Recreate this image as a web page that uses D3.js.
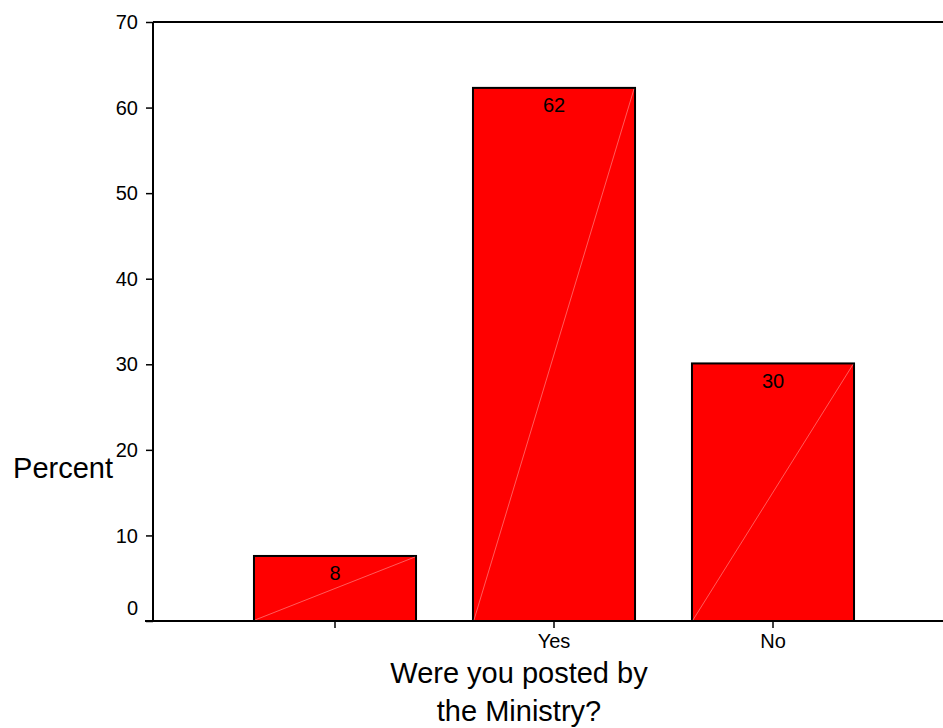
<!DOCTYPE html>
<html>
<head>
<meta charset="utf-8">
<script src="https://cdn.jsdelivr.net/npm/d3@7"></script>
<style>
body{margin:0;background:#fff;}
text{font-family:"Liberation Sans",Arial,sans-serif;fill:#000;}
</style>
</head>
<body>
<svg id="chart" width="943" height="728"></svg>
<script>
//数据
var categories = ["", "Yes", "No"];
var percents = [7.6, 62.3, 30.1];
var barLabels = ["8", "62", "30"];
var yTicks = [0, 10, 20, 30, 40, 50, 60, 70];

var svg = d3.select("#chart");

//比例尺
var y = d3.scaleLinear().domain([0, 70]).range([621, 22]);
var x = d3.scaleBand().domain(categories)
	.range([225.5, 882.5])
	.paddingInner(0.26)
	.paddingOuter(0.13);

var axisX = 153;

//框线
svg.append("line")
	.attr("x1", axisX).attr("x2", 943)
	.attr("y1", y(70)).attr("y2", y(70))
	.attr("stroke", "#000").attr("stroke-width", 2);

//柱子
var bars = svg.selectAll("g.bar")
	.data(percents)
	.enter().append("g")
	.attr("class", "bar");

bars.append("rect")
	.attr("x", function(d, i){ return x(categories[i]); })
	.attr("y", function(d){ return y(d); })
	.attr("width", x.bandwidth())
	.attr("height", function(d){ return y(0) - y(d); })
	.attr("fill", "#ff0000")
	.attr("stroke", "#000")
	.attr("stroke-width", 2);

bars.append("line")
	.attr("x1", function(d, i){ return x(categories[i]) + 1; })
	.attr("y1", y(0) - 1)
	.attr("x2", function(d, i){ return x(categories[i]) + x.bandwidth() - 1; })
	.attr("y2", function(d){ return y(d) + 1; })
	.attr("stroke", "#ffffff")
	.attr("stroke-opacity", 0.45)
	.attr("stroke-width", 0.8);

bars.append("text")
	.attr("x", function(d, i){ return x(categories[i]) + x.bandwidth()/2; })
	.attr("y", function(d){ return y(d) + 24.5; })
	.attr("text-anchor", "middle")
	.style("font-size", "20px")
	.text(function(d, i){ return barLabels[i]; });

//y轴
var yAxis = svg.append("g")
	.attr("transform", "translate(" + axisX + ",0)")
	.call(d3.axisLeft(y).tickValues(yTicks).tickSize(7).tickPadding(8).tickFormat(d3.format("d")));
yAxis.select(".domain").attr("stroke-width", 2).attr("d", "M0," + y(70) + "V" + y(0));
yAxis.selectAll(".tick line").attr("stroke-width", 1.5);
yAxis.selectAll(".tick text")
	.style("font-size", "20px")
	.style("font-family", "'Liberation Sans',Arial,sans-serif")
	.attr("dy", function(d){ return d == 0 ? "-0.35em" : "0.33em"; });

//x轴
var xAxis = svg.append("g")
	.attr("transform", "translate(0," + y(0) + ")")
	.call(d3.axisBottom(x).tickSize(7).tickPadding(6));
xAxis.select(".domain").attr("stroke-width", 2).attr("d", "M145,0H943");
xAxis.selectAll(".tick line").attr("stroke-width", 1.5);
xAxis.selectAll(".tick text")
	.style("font-size", "20px")
	.style("font-family", "'Liberation Sans',Arial,sans-serif");

//标题
svg.append("text")
	.attr("x", 113).attr("y", 478)
	.attr("text-anchor", "end")
	.style("font-size", "29px")
	.text("Percent");

var title = svg.append("text")
	.attr("text-anchor", "middle")
	.style("font-size", "29px");
title.append("tspan").attr("x", 519).attr("y", 683).text("Were you posted by");
title.append("tspan").attr("x", 519).attr("y", 721).text("the Ministry?");
</script>
</body>
</html>
